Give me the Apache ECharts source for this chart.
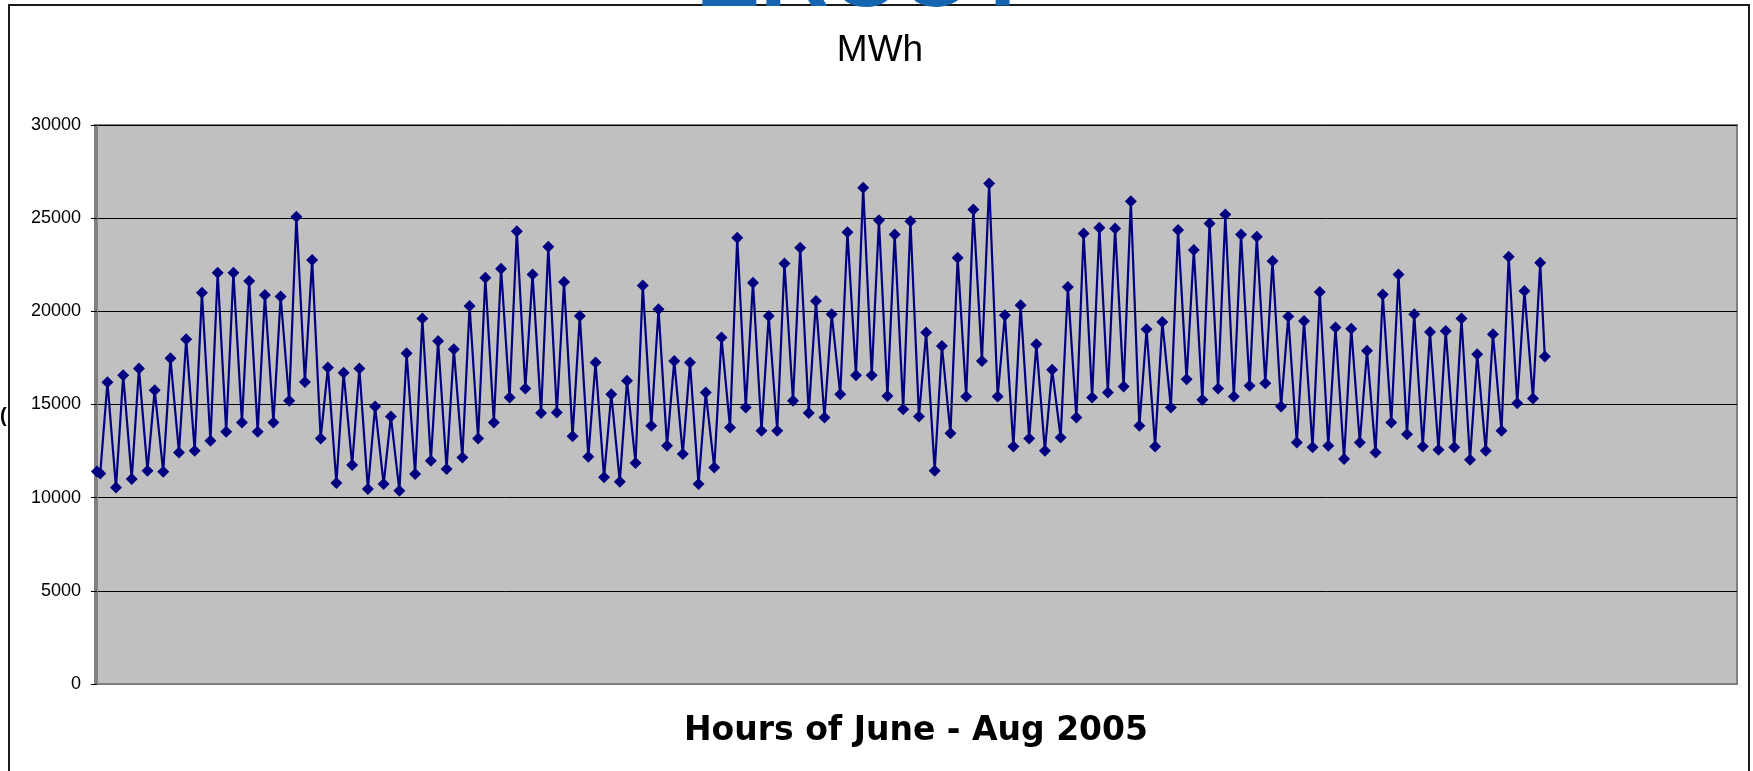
<!DOCTYPE html>
<html>
<head>
<meta charset="utf-8">
<script src="https://cdn.jsdelivr.net/npm/echarts@6/dist/echarts.min.js"></script>
<style>
html,body{margin:0;padding:0;background:#fff;}
#chart{width:1753px;height:771px;}
</style>
</head>
<body>
<div id="chart"></div>
<script>
// ---- data (MWh), one daily low and one daily high per day, June 1 - Aug 31 2005 ----
const chartTitle = 'MWh';
const xAxisTitle = 'Hours of June - Aug 2005';
const bannerText = 'ERCOT';   // slide heading, cut off at the top edge
const yTicks = [0, 5000, 10000, 15000, 20000, 25000, 30000];
const startLoad = 11400;   // first hour of June 1
const endLoad = 17570;     // last hour of Aug 31
const dailyLow = [
  11300,10550,11000,11450,11390,12430,12520,13050,13540,14040,
  13540,14040,15200,16210,13180,10790,11750,10460,10730,10370,
  11270,11980,11540,12160,13180,14040,15380,15860,14540,14570,
  13290,12200,11090,10860,11860,13860,12790,12340,10730,11620,
  13770,14840,13590,13590,15200,14540,14300,15550,16570,16570,
  15460,14750,14360,11450,13460,15430,17340,15430,12750,13180,
  12520,13230,14300,15380,15640,15960,13860,12750,14840,16360,
  15250,15860,15430,16000,16140,14890,12960,12700,12790,12070,
  12960,12430,14040,13410,12750,12570,12700,12040,12520,13590,
  15070,15320
];
const dailyHigh = [
  16200,16570,16930,15770,17480,18500,21000,22070,22070,21630,
  20880,20790,25070,22750,16980,16700,16930,14890,14360,17750,
  19610,18410,17960,20290,21800,22290,24300,21980,23470,21570,
  19750,17250,15550,16270,21390,20110,17340,17250,15640,18590,
  23950,21540,19750,22570,23410,20550,19840,24250,26630,24890,
  24130,24840,18860,18140,22880,25470,26860,19790,20320,18230,
  16860,21300,24180,24480,24450,25910,19040,19430,24360,23290,
  24720,25200,24130,24000,22700,19720,19480,21040,19130,19070,
  17880,20910,21980,19840,18890,18950,19610,17700,18770,22930,
  21090,22610
];
const lowHour = 5;    // hour of day of the daily low
const highHour = 16;  // hour of day of the daily peak
const totalHours = 2208;

// build [hour index, MWh] pairs
const seriesData = [[0, startLoad]];
for (let d = 0; d < dailyLow.length; d++) {
  seriesData.push([d * 24 + lowHour, dailyLow[d]]);
  seriesData.push([d * 24 + highHour, dailyHigh[d]]);
}
seriesData.push([totalHours - 1, endLoad]);

const chart = echarts.init(document.getElementById('chart'), null, {renderer: 'canvas'});
chart.setOption({
  animation: false,
  backgroundColor: '#ffffff',
  grid: {
    left: 95, right: 16, top: 125, bottom: 87,
    show: true, backgroundColor: '#c0c0c0', borderColor: '#808080', borderWidth: 2
  },
  xAxis: {
    type: 'value', min: -3, max: 2500,
    axisLine: {show: true, onZero: false, lineStyle: {color: '#808080', width: 2}},
    axisTick: {show: false}, axisLabel: {show: false}, splitLine: {show: false}
  },
  yAxis: {
    type: 'value', min: yTicks[0], max: yTicks[yTicks.length - 1], interval: 5000,
    axisLine: {show: true, lineStyle: {color: '#808080', width: 2}},
    axisTick: {show: true, length: 6, lineStyle: {color: '#000', width: 1}},
    axisLabel: {color: '#000', fontFamily: 'Liberation Sans', fontSize: 18, margin: 14,
                formatter: v => String(v)},
    splitLine: {show: true, lineStyle: {color: '#000', width: 1}}
  },
  series: [{
    type: 'line',
    data: seriesData,
    symbol: 'diamond',
    symbolSize: [12, 12],
    showAllSymbol: true,
    itemStyle: {color: '#000080'},
    lineStyle: {color: '#000080', width: 2.2}
  }],
  graphic: [
    {type: 'rect', shape: {x: 9, y: 5, width: 1740, height: 830},
     style: {fill: 'none', stroke: '#1a1a1a', lineWidth: 2}, silent: true, z: 1},
    {type: 'text', x: 864, y: -20, z: 2,
     style: {text: bannerText, fill: '#1565b0', font: 'bold 96px "Liberation Sans"', align: 'center', verticalAlign: 'middle'}},
    {type: 'text', x: 880, y: 51,
     style: {text: chartTitle, fill: '#000', font: '37px "Liberation Sans"', align: 'center', verticalAlign: 'middle'}},
    {type: 'text', x: 916, y: 731,
     style: {text: xAxisTitle, fill: '#000', font: 'bold 33px "DejaVu Sans"', align: 'center', verticalAlign: 'middle'}},
    {type: 'text', x: 0, y: 416,
     style: {text: '(', fill: '#000', font: 'bold 20px "Liberation Sans"', align: 'left', verticalAlign: 'middle'}}
  ]
});
</script>
</body>
</html>
